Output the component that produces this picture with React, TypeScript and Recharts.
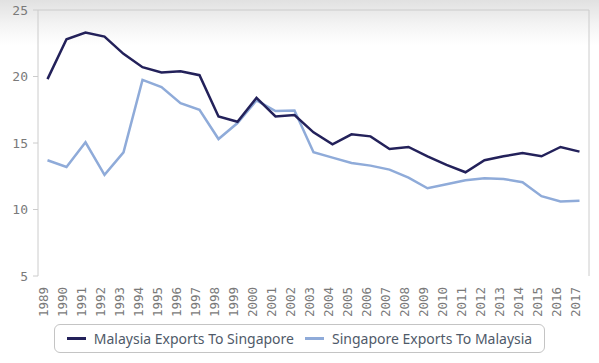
import { LineChart, Line, XAxis, YAxis, Legend, ReferenceLine } from 'recharts';

const years = [
  1989, 1990, 1991, 1992, 1993, 1994, 1995, 1996, 1997, 1998, 1999, 2000, 2001, 2002, 2003,
  2004, 2005, 2006, 2007, 2008, 2009, 2010, 2011, 2012, 2013, 2014, 2015, 2016, 2017,
];

const malaysiaToSingapore = [
  19.8, 22.8, 23.3, 23.0, 21.7, 20.7, 20.3, 20.4, 20.1, 17.0, 16.6, 18.4, 17.0, 17.1, 15.8,
  14.9, 15.65, 15.5, 14.55, 14.7, 14.0, 13.35, 12.8, 13.7, 14.0, 14.25, 14.0, 14.7, 14.35,
];

const singaporeToMalaysia = [
  13.7, 13.2, 15.05, 12.6, 14.3, 19.75, 19.2, 18.0, 17.5, 15.3, 16.5, 18.2, 17.4, 17.45, 14.3,
  13.9, 13.5, 13.3, 13.0, 12.4, 11.6, 11.9, 12.2, 12.35, 12.3, 12.05, 11.0, 10.6, 10.65,
];

const yTicks = [5, 10, 15, 20, 25];

const series = [
  { key: 'malaysia', name: 'Malaysia Exports To Singapore', color: '#23215a' },
  { key: 'singapore', name: 'Singapore Exports To Malaysia', color: '#8fabd9' },
];

const chartData = years.map((year, i) => ({
  year,
  malaysia: malaysiaToSingapore[i],
  singapore: singaporeToMalaysia[i],
}));

// tick marks sit on the boundaries between years
const edgeTicks = [...years.map((y) => y - 0.5), years[years.length - 1] + 0.5];
const xDomain = [years[0] - 0.5, years[years.length - 1] + 0.5];

const YearTick = ({ x, y, payload }: any) => (
  <text
    x={x}
    y={y + 3}
    transform={`rotate(-90, ${x}, ${y + 3})`}
    textAnchor="end"
    fill="#7a7a7a"
    fontSize={12.5}
    fontFamily="DejaVu Sans Mono"
  >
    {payload.value}
  </text>
);

const LegendBox = () => (
  <div style={{ display: 'flex', justifyContent: 'center' }}>
    <div
      style={{
        display: 'flex',
        alignItems: 'center',
        height: 27,
        padding: '0 12px',
        border: '1px solid #c4c4c4',
        borderRadius: 6,
        fontFamily: 'Noto Sans',
        fontSize: 14,
        color: '#4f5a69',
      }}
    >
      {series.map((s, i) => (
        <div
          key={s.key}
          style={{ display: 'flex', alignItems: 'center', marginRight: i === 0 ? 11 : 0 }}
        >
          <span
            style={{
              display: 'inline-block',
              width: 19,
              height: 2.5,
              background: s.color,
              marginRight: 8,
            }}
          />
          <span>{s.name}</span>
        </div>
      ))}
    </div>
  </div>
);

const App = () => {
  return (
    <div
      style={{
        width: 599,
        height: 363,
        background: 'linear-gradient(#e1e1e1 0px, #f4f4f4 25px, #ffffff 45px)',
      }}
    >
      <style>{`body { margin: 0; }`}</style>
      <LineChart
        width={599}
        height={363}
        data={chartData}
        margin={{ top: 10, right: 10, left: 0, bottom: 10 }}
      >
        <XAxis
          xAxisId="edges"
          type="number"
          dataKey="year"
          domain={xDomain}
          ticks={edgeTicks}
          tick={false}
          height={0}
          tickSize={5}
          axisLine={{ stroke: '#cccccc' }}
          tickLine={{ stroke: '#cccccc' }}
          allowDataOverflow
        />
        <XAxis
          xAxisId="years"
          type="number"
          dataKey="year"
          domain={xDomain}
          ticks={years}
          interval={0}
          height={48}
          axisLine={false}
          tickLine={false}
          tick={<YearTick />}
          allowDataOverflow
        />
        <YAxis
          domain={[5, 25]}
          ticks={yTicks}
          width={38}
          tickSize={5}
          tickMargin={5}
          axisLine={{ stroke: '#cccccc' }}
          tickLine={{ stroke: '#cccccc' }}
          tick={{ fill: '#7a7a7a', fontSize: 13, fontFamily: 'DejaVu Sans Mono' }}
        />
        <ReferenceLine xAxisId="years" y={25} stroke="#cccccc" />
        <ReferenceLine xAxisId="years" x={xDomain[1]} stroke="#cccccc" />
        <Legend
          verticalAlign="bottom"
          content={<LegendBox />}
          wrapperStyle={{ left: 0, width: 599 }}
        />
        <Line
          xAxisId="years"
          type="linear"
          dataKey="singapore"
          name={series[1].name}
          stroke={series[1].color}
          strokeWidth={2.5}
          dot={false}
          isAnimationActive={false}
        />
        <Line
          xAxisId="years"
          type="linear"
          dataKey="malaysia"
          name={series[0].name}
          stroke={series[0].color}
          strokeWidth={2.5}
          dot={false}
          isAnimationActive={false}
        />
      </LineChart>
    </div>
  );
};

export default App;
